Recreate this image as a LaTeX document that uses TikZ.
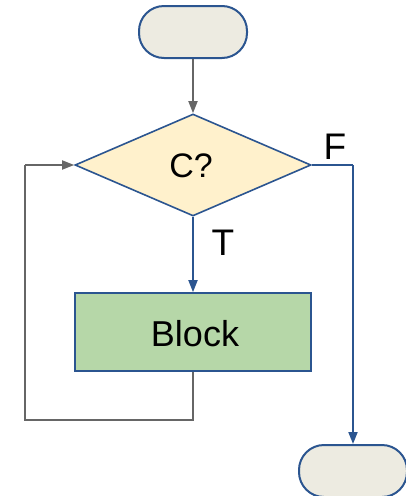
\documentclass[tikz,border=0pt]{standalone}
\usepackage{fontspec}
\setmainfont{Liberation Sans}
\usetikzlibrary{shapes.geometric,arrows.meta}
\definecolor{bord}{HTML}{2B5590}
\definecolor{termfill}{HTML}{EDEBE1}
\definecolor{decfill}{HTML}{FFF1CC}
\definecolor{blockfill}{HTML}{B6D7A8}
\definecolor{grayline}{HTML}{666666}
\begin{document}
\begin{tikzpicture}[x=1pt,y=-1pt,
  term/.style={draw=bord,fill=termfill,line width=2pt,rounded corners=25pt,minimum width=108pt,minimum height=52pt,inner sep=0pt},
  dec/.style={draw=bord,fill=decfill,line width=1.6pt,diamond,aspect=2.31,minimum width=236pt,minimum height=102pt,inner sep=0pt},
  blk/.style={draw=bord,fill=blockfill,line width=1.6pt,minimum width=236pt,minimum height=78pt,inner sep=0pt},
  lbl/.style={font=\fontsize{37}{42}\selectfont,inner sep=0pt},
  blue arrow/.style={draw=bord,line width=1.8pt,-{Triangle[length=12pt,width=9pt]}},
  gray arrow/.style={draw=grayline,line width=1.8pt,-{Triangle[length=12pt,width=9pt]}},
  gray line/.style={draw=grayline,line width=1.8pt}]
\useasboundingbox (0,0) rectangle (405,496);
\node[term] (start) at (193,32) {};
\node[dec,font=\fontsize{34}{40}\selectfont] (cond) at (193,165) {};
\node (ctext) at (191,166) [font=\fontsize{34}{40}\selectfont,inner sep=0pt] {C?};
\node[blk] (block) at (193,332) {};
\node (btext) at (195,334) [font=\fontsize{36}{42}\selectfont,inner sep=0pt] {Block};
\node[term] (stop) at (353,471) {};
\coordinate (fr) at (353,165);
\coordinate (lb) at (193,420);
\coordinate (ll) at (25,420);
\coordinate (lt) at (25,165);
\draw[gray arrow] (start.south) -- (cond.north);
\draw[blue arrow] (cond.south) -- (block.north);
\node[lbl] (tlab) at (223,243) {T};
\draw[bord,line width=1.8pt] (cond.east) -- (fr);
\draw[blue arrow] (fr) -- (stop.north);
\node[lbl] (flab) at (335,147) {F};
\draw[gray line] (block.south) -- (lb) -- (ll) -- (lt);
\draw[gray arrow] (lt) -- (cond.west);
\end{tikzpicture}
\end{document}
